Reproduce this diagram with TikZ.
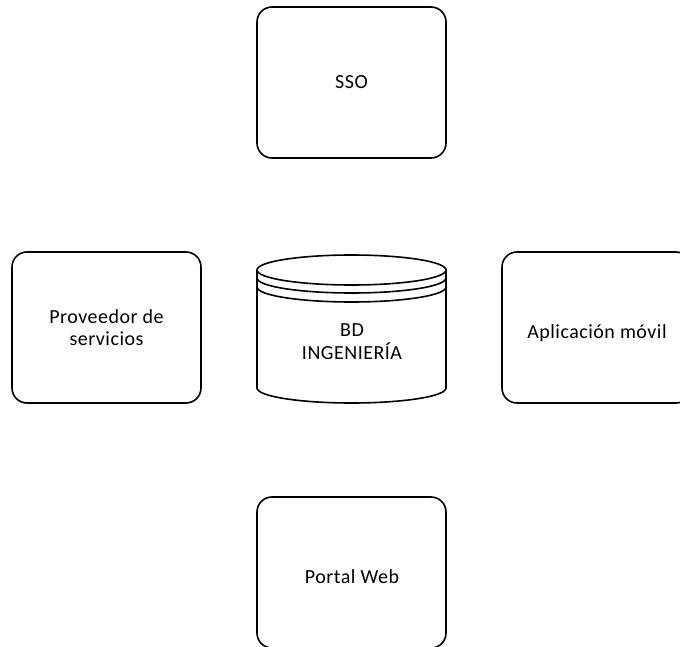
\documentclass[tikz,border=0pt]{standalone}
\usepackage{fontspec}
\setmainfont{Carlito}[LetterSpace=2.5]
\begin{document}
\begin{tikzpicture}[x=1pt,y=-1pt,
  box/.style={draw, line width=1.6pt, rounded corners=15pt,
    minimum width=189pt, minimum height=151pt, inner sep=0pt,
    align=center, font=\fontsize{20}{22}\selectfont},
  lbl/.style={align=center, font=\fontsize{20}{23}\selectfont, inner sep=0pt},
  db/.style={line width=1.6pt}]
\useasboundingbox (0,0) rectangle (680,647);
\clip (0,0) rectangle (680,647);

% systems around the database
\node[box] (sso) at (351.5,82.5) {SSO};
\node[box] (prov) at (106.5,327.5) {Proveedor de\\servicios};
\node[box] (app) at (596.5,327.5) {};
\node[lbl] (applbl) at (597,333) {Aplicación móvil};
\node[box] (web) at (351.5,572.5) {};
\node[lbl] (weblbl) at (352,577) {Portal Web};

% database cylinder
\draw[db] (257,270) -- (257,388) arc[start angle=180, end angle=0, x radius=94.5, y radius=15]
  -- (446,270);
\draw[db] (351.5,270) ellipse [x radius=94.5, y radius=15];
\draw[db] (257,278) arc[start angle=180, end angle=0, x radius=94.5, y radius=15];
\draw[db] (257,287) arc[start angle=180, end angle=0, x radius=94.5, y radius=15];
\node[lbl] (bd) at (352,342) {BD\\INGENIERÍA};
\end{tikzpicture}
\end{document}
